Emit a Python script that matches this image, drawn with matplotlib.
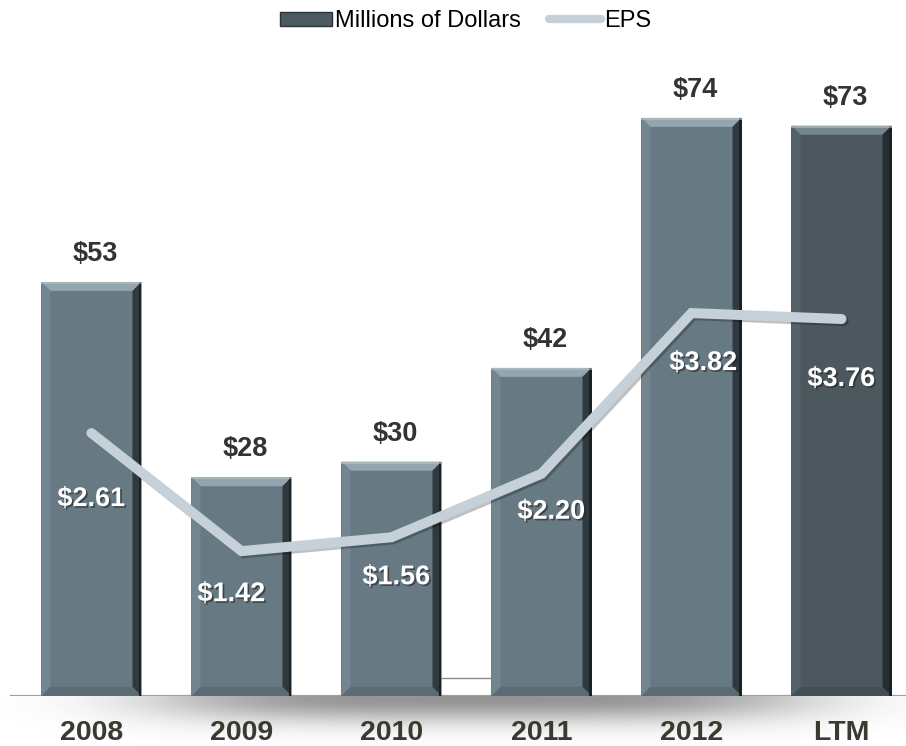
import numpy as np
import matplotlib.pyplot as plt
import matplotlib.patheffects as pe
from matplotlib.patches import Polygon, Rectangle, Patch
from matplotlib.lines import Line2D

plt.rcParams['font.family'] = ['Liberation Sans', 'DejaVu Sans']

years = ['2008', '2009', '2010', '2011', '2012', 'LTM']
millions = [53, 28, 30, 42, 74, 73]
eps = [2.61, 1.42, 1.56, 2.20, 3.82, 3.76]

# label offsets below each EPS point (pixels)
eps_offsets = [(0, -66), (-10, -43), (5, -40), (10, -38), (12, -50), (0, -60)]

W, H = 906, 746
fig = plt.figure(figsize=(W / 100, H / 100), dpi=100)

# soft shadow under the baseline
bg = fig.add_axes([0, 0, 1, 1], zorder=0)
bg.set_xlim(0, W)
bg.set_ylim(H, 0)
bg.axis('off')
gx = np.linspace(0, W, 400)
gy = np.linspace(696, H, 80)
GX, GY = np.meshgrid(gx, gy)
alpha = 0.6 * np.exp(-((GX - 480) / 330) ** 4) * np.exp(-((GY - 698) / 24) ** 2)
img = np.zeros((len(gy), len(gx), 4))
img[..., :3] = 0.3
img[..., 3] = alpha
bg.imshow(img, extent=(0, W, H, 696), aspect='auto', interpolation='bilinear')

ax = fig.add_axes([10 / W, 1 - 696 / H, (W - 10) / W, 625 / H], zorder=1)
ax.patch.set_alpha(0)
x = np.arange(len(years))
ax.set_xlim(-0.543, 5.43)
ax.set_ylim(0, 80)

bar_w = 0.667
face = ['#677a84'] * 5 + ['#4c585e']
top_col = ['#93a5ae'] * 5 + ['#76868e']
left_col = ['#73868f'] * 5 + ['#56626a']
right_col = ['#2f393e'] * 5 + ['#262e32']
bottom_col = ['#5a6b74'] * 5 + ['#434e54']

# bevel size in data units (about 9 px)
bx = 9 * (5.43 + 0.543) / (W - 10)
by = 9 * 80 / 625

for xi, v, fc, tc, lc, rc, btc in zip(x, millions, face, top_col, left_col, right_col, bottom_col):
    x0, x1 = xi - bar_w / 2, xi + bar_w / 2
    ax.add_patch(Rectangle((x0, 0), bar_w, v, facecolor=fc, edgecolor='none', zorder=2))
    ax.add_patch(Polygon([(x0, v), (x1, v), (x1 - bx, v - by), (x0 + bx, v - by)],
                         facecolor=tc, edgecolor='none', zorder=3))
    ax.add_patch(Polygon([(x0, v), (x0, 0), (x0 + bx, by), (x0 + bx, v - by)],
                         facecolor=lc, edgecolor='none', zorder=3))
    ax.add_patch(Polygon([(x1, v), (x1, 0), (x1 - bx, by), (x1 - bx, v - by)],
                         facecolor=rc, edgecolor='none', zorder=3))
    ax.add_patch(Polygon([(x0, 0), (x1, 0), (x1 - bx, by), (x0 + bx, by)],
                         facecolor=btc, edgecolor='none', zorder=3))
    ax.add_patch(Rectangle((x1 - bx * 0.3, 0), bx * 0.3, v, facecolor='#1b2225',
                           edgecolor='none', zorder=3))
    ax.add_patch(Rectangle((x0, v - by * 0.25), bar_w, by * 0.25, facecolor='#b7c4ca',
                           edgecolor='none', zorder=3, alpha=0.6))
    ax.annotate(f'${v}', (xi, v), xytext=(3, 20), textcoords='offset points',
                ha='center', va='center', fontsize=19.5, fontweight='bold',
                color='#333333', zorder=5)

ax.axhline(0, color='#a0a0a0', lw=1.6, zorder=1)
ax.hlines(2.3, x[2] + bar_w / 2, x[3] - bar_w / 2, color='#8a8a8a', lw=1, zorder=1)

ax.set_xticks(x)
ax.set_xticklabels(years, fontsize=20.5, fontweight='bold', color='#3a3a30')
ax.tick_params(axis='x', length=0, pad=17)
ax.set_yticks([])
for s in ax.spines.values():
    s.set_visible(False)

ax2 = ax.twinx()
ax2.set_ylim(-0.04, 6.26)
ax2.set_yticks([])
for s in ax2.spines.values():
    s.set_visible(False)
ax2.plot(x, eps, color='#c6d0d8', lw=7.2, solid_capstyle='round', solid_joinstyle='miter',
         zorder=4, path_effects=[pe.SimpleLineShadow(offset=(1.5, -1.5), alpha=0.25),
                                 pe.Normal()])
for xi, e, (ox, oy) in zip(x, eps, eps_offsets):
    ax2.annotate(f'${e:.2f}', (xi, e), xytext=(ox * 0.72, oy * 0.72),
                 textcoords='offset points', ha='center', va='center',
                 fontsize=19.5, fontweight='bold', color='white', zorder=5,
                 path_effects=[pe.withSimplePatchShadow(offset=(1.2, -1.2),
                                                        shadow_rgbFace='#222222', alpha=0.6)])

handles = [Patch(facecolor='#4c5a61', edgecolor='#2a3337', lw=1),
           Line2D([0], [0], color='#c6d0d8', lw=6, solid_capstyle='round')]
fig.legend(handles, ['Millions of Dollars', 'EPS'], loc='center',
           bbox_to_anchor=(0.514, 1 - 21 / H), ncol=2, frameon=False,
           fontsize=17, handlelength=2.2, handleheight=0.55, handletextpad=0.12,
           columnspacing=1.2)

fig.savefig('out.png', dpi=100)
